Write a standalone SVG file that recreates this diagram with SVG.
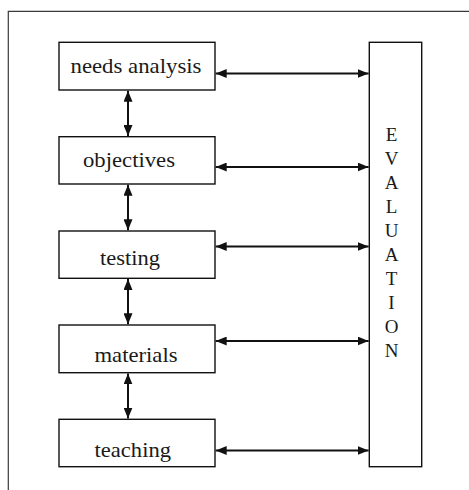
<svg xmlns="http://www.w3.org/2000/svg" width="469" height="490" viewBox="0 0 469 490">
  <style>
    .frame { fill: none; stroke: #3a3a3a; stroke-width: 1.2; }
    .box { fill: #ffffff; stroke: #111111; stroke-width: 1.4; }
    .label { font-family: "Liberation Serif", "Times New Roman", serif; font-size: 21px; fill: #1a1a1a; }
    .letter { font-family: "Liberation Serif", "Times New Roman", serif; font-size: 19px; fill: #1a1a1a; text-anchor: middle; }
    .link { fill: none; stroke: #111111; stroke-width: 2; marker-start: url(#head); marker-end: url(#head); }
  </style>
  <defs>
    <marker id="head" markerUnits="userSpaceOnUse" markerWidth="12" markerHeight="9" refX="11" refY="4.5" orient="auto-start-reverse">
      <path d="M0,0 L11,4.5 L0,9 Z" fill="#111111"/>
    </marker>
  </defs>

  <rect width="469" height="490" fill="#ffffff"/>

  <!-- page frame: top and left rules -->
  <path class="frame" d="M469,11.3 H8.3 V490"/>

  <g id="needs-analysis">
    <rect class="box" x="59" y="42.3" width="156" height="47.7"/>
    <text class="label" x="70.5" y="73" textLength="131" lengthAdjust="spacingAndGlyphs">needs analysis</text>
  </g>

  <g id="objectives">
    <rect class="box" x="59" y="136.7" width="156" height="47.3"/>
    <text class="label" x="83" y="167.3" textLength="92" lengthAdjust="spacingAndGlyphs">objectives</text>
  </g>

  <g id="testing">
    <rect class="box" x="59" y="231" width="156" height="47.3"/>
    <text class="label" x="100" y="265" textLength="60" lengthAdjust="spacingAndGlyphs">testing</text>
  </g>

  <g id="materials">
    <rect class="box" x="59" y="325" width="156" height="47.7"/>
    <text class="label" x="94.5" y="361.7" textLength="83" lengthAdjust="spacingAndGlyphs">materials</text>
  </g>

  <g id="teaching">
    <rect class="box" x="59" y="419.3" width="156" height="47.4"/>
    <text class="label" x="94.5" y="457" textLength="76.5" lengthAdjust="spacingAndGlyphs">teaching</text>
  </g>

  <g id="evaluation">
    <rect class="box" x="369.3" y="42.3" width="52.4" height="424.4"/>
    <text class="letter" x="391.5" y="141">E</text>
    <text class="letter" x="391.5" y="165">V</text>
    <text class="letter" x="391.5" y="189">A</text>
    <text class="letter" x="391.5" y="213">L</text>
    <text class="letter" x="391.5" y="237">U</text>
    <text class="letter" x="391.5" y="261">A</text>
    <text class="letter" x="391.5" y="285">T</text>
    <text class="letter" x="391.5" y="309">I</text>
    <text class="letter" x="391.5" y="333">O</text>
    <text class="letter" x="391.5" y="357">N</text>
  </g>

  <g id="connectors">
    <!-- between stages -->
    <line class="link" x1="128" y1="90.7" x2="128" y2="136"/>
    <line class="link" x1="128" y1="184.7" x2="128" y2="230.3"/>
    <line class="link" x1="128" y1="279" x2="128" y2="324.3"/>
    <line class="link" x1="128" y1="373.4" x2="128" y2="418.6"/>
    <!-- stages to evaluation -->
    <line class="link" x1="215.7" y1="73.5" x2="368.6" y2="73.5"/>
    <line class="link" x1="215.7" y1="167" x2="368.6" y2="167"/>
    <line class="link" x1="215.7" y1="246.5" x2="368.6" y2="246.5"/>
    <line class="link" x1="215.7" y1="341" x2="368.6" y2="341"/>
    <line class="link" x1="215.7" y1="450.5" x2="368.6" y2="450.5"/>
  </g>
</svg>
